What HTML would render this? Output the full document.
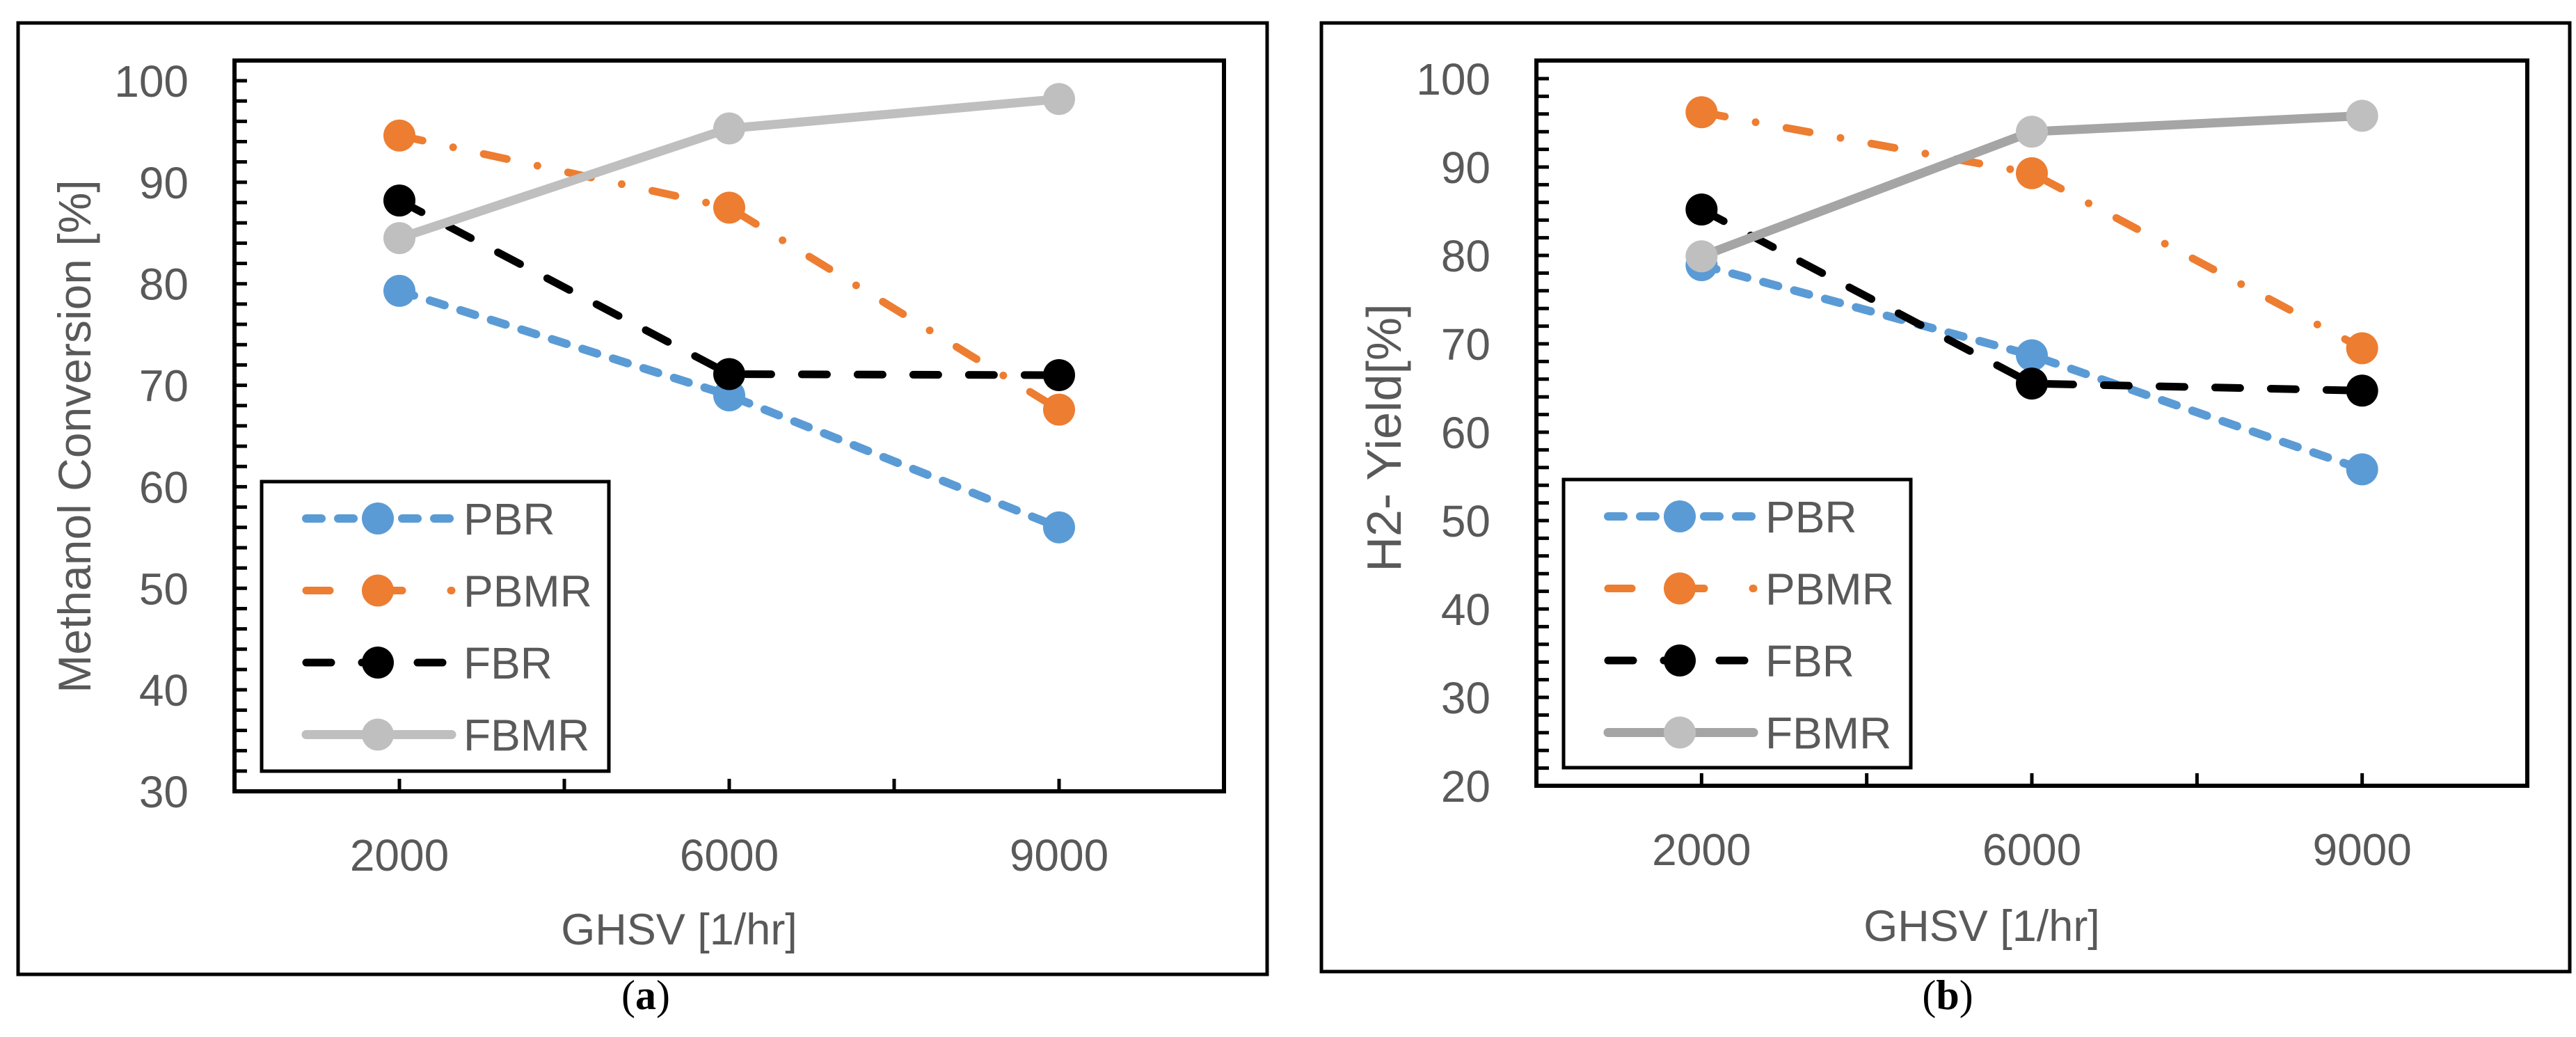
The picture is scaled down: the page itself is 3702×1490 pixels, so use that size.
<!DOCTYPE html>
<html><head><meta charset="utf-8"><style>
html,body{margin:0;padding:0;background:#fff;}
svg{display:block;}
text{font-family:"Liberation Sans",sans-serif;fill:#595959;}
</style></head><body>
<svg id="fig" width="3702" height="1490" viewBox="0 0 3702 1490" xmlns="http://www.w3.org/2000/svg"></svg>
<script>
const categories = ["2000","6000","9000"];
const seriesNames = ["PBR","PBMR","FBR","FBMR"];
const convPBR = [79.3, 69.0, 56.0];
const convPBMR = [94.6, 87.5, 67.6];
const convFBR = [88.2, 71.1, 71.0];
const convFBMR = [84.5, 95.3, 98.2];
const yieldPBR = [78.9, 68.7, 55.8];
const yieldPBMR = [96.2, 89.3, 69.5];
const yieldFBR = [85.2, 65.5, 64.7];
const yieldFBMR = [79.9, 94.0, 95.8];
const ticksA = [30,40,50,60,70,80,90,100];
const ticksB = [20,30,40,50,60,70,80,90,100];

const NS = "http://www.w3.org/2000/svg";
const svg = document.getElementById('fig');
function mk(tag, attrs, parent){
  const e = document.createElementNS(NS, tag);
  for (const k in attrs) e.setAttribute(k, attrs[k]);
  (parent||svg).appendChild(e);
  return e;
}
function drawChart(cfg){
  const g = mk('g', {});
  
  
  const fr = mk('rect', {x:cfg.frame[0], y:cfg.frame[1], width:cfg.frame[2]-cfg.frame[0], height:cfg.frame[3]-cfg.frame[1], fill:'none', stroke:'#000', 'stroke-width':5}, g);
  
  
  const L=cfg.plot[0], T=cfg.plot[1], R=cfg.plot[2], B=cfg.plot[3];
  const ymin=cfg.ymin, ymax=cfg.ymax;
  const yS = v => B - (v - ymin) / (ymax - ymin) * (B - cfg.yTopVal);
  const band = (R - L) / categories.length;
  const xS = i => L + band * (i + 0.5);
  const pa = mk('rect', {x:L, y:T, width:R-L, height:B-T, fill:'none', stroke:'#000', 'stroke-width':6}, g);
  
  
  for (let v = ymin; v <= ymax; v += 2) {
    const t = mk('line', {x1:L, x2:L+18, y1:yS(v), y2:yS(v), stroke:'#000', 'stroke-width':5}, g);
    
    
  }
  cfg.ticks.forEach(v => {
    const t = mk('text', {x:L-66, y:yS(v)+23, 'text-anchor':'end', 'font-size':64}, g);
    t.textContent = v;
    
    
  });
  for (let k = 0; k < categories.length*2 - 1; k++) {
    const x = L + band*0.5 + band*0.5*k;
    const t = mk('line', {x1:x, x2:x, y1:B, y2:B-18, stroke:'#000', 'stroke-width':5}, g);
    
    
  }
  categories.forEach((c,i) => {
    const t = mk('text', {x:xS(i), y:B+114, 'text-anchor':'middle', 'font-size':64}, g);
    t.textContent = c;
    
    
  });
  const xt = mk('text', {x:cfg.xTitle[0], y:cfg.xTitle[1], 'text-anchor':'middle', 'font-size':63}, g);
  xt.textContent = 'GHSV [1/hr]';
  
  
  const yt = mk('text', {x:0, y:0, 'text-anchor':'middle', 'font-size':cfg.yTitleSize, transform:`translate(${cfg.yTitle[0]},${cfg.yTitle[1]}) rotate(-90)`}, g);
  yt.textContent = cfg.yTitleText;
  
  
  const styles = cfg.styles;
  cfg.series.forEach((vals, si) => {
    const st = styles[si];
    const pts = vals.map((v,i)=>xS(i)+','+yS(v)).join(' ');
    const pl = mk('polyline', {points:pts, fill:'none', stroke:st.line, 'stroke-width':st.w, 'stroke-dasharray':st.dash, 'stroke-linecap':st.cap}, g);
    
    
    vals.forEach((v,i) => {
      const c = mk('circle', {cx:xS(i), cy:yS(v), r:23, fill:st.marker}, g);
      
      
    });
  });
  const lg = mk('g', {}, g);
  
  
  const [lx1,ly1,lx2,ly2] = cfg.legend;
  mk('rect', {x:lx1, y:ly1, width:lx2-lx1, height:ly2-ly1, fill:'#fff', stroke:'#000', 'stroke-width':5}, lg);
  seriesNames.forEach((n, si) => {
    const st = styles[si];
    const y = ly1 + 53 + si*103.5;
    const e = mk('g', {}, lg);
    
    
    mk('line', {x1:lx1+64, x2:lx1+273, y1:y, y2:y, stroke:st.line, 'stroke-width':st.w, 'stroke-dasharray':st.legDash, 'stroke-linecap':st.cap}, e);
    mk('circle', {cx:lx1+167, cy:y, r:23, fill:st.marker}, e);
    const t = mk('text', {x:lx1+290, y:y+23, 'font-size':64}, e);
    t.textContent = n;
  });
  const cap = mk('text', {x:cfg.caption[0], y:cfg.caption[1], 'text-anchor':'middle', 'font-size':60, style:'font-family:"Liberation Serif",serif;fill:#000'}, g);
  cap.innerHTML = '(<tspan font-weight="bold">' + cfg.capLetter + '</tspan>)';
  
  
}
function styleSet(fbmrLine){
  return [
    {line:'#5b9bd5', marker:'#5b9bd5', w:12, dash:'22 24', legDash:'22 24', cap:'round'},
    {line:'#ed7d31', marker:'#ed7d31', w:11, dash:'34 45 0 45', legDash:'34 70', cap:'round'},
    {line:'#000', marker:'#000', w:11, dash:'36 44', legDash:'36 44', cap:'round'},
    {line:fbmrLine, marker:'#bfbfbf', w:13, dash:'none', legDash:'none', cap:'round'}
  ];
}
drawChart({name:'chart-methanol-conversion', frame:[26,33,1821,1400], plot:[337,87,1759,1137], ymin:30, ymax:100, yTopVal:116,
  ticks:ticksA, series:[convPBR,convPBMR,convFBR,convFBMR], styles:styleSet('#bfbfbf'),
  xTitle:[976,1357], yTitle:[130,627], yTitleSize:66, yTitleText:'Methanol Conversion [%]', legend:[376,692,875,1108], caption:[928,1450], capLetter:'a'});
drawChart({name:'chart-h2-yield', frame:[1899,33,3693,1396], plot:[2208,87,3632,1129], ymin:20, ymax:100, yTopVal:113,
  ticks:ticksB, series:[yieldPBR,yieldPBMR,yieldFBR,yieldFBMR], styles:styleSet('#a5a5a5'),
  xTitle:[2848,1352], yTitle:[2013,629], yTitleSize:70, yTitleText:'H2- Yield[%]', legend:[2247,689,2746,1103], caption:[2799,1450], capLetter:'b'});
</script>
</body></html>
